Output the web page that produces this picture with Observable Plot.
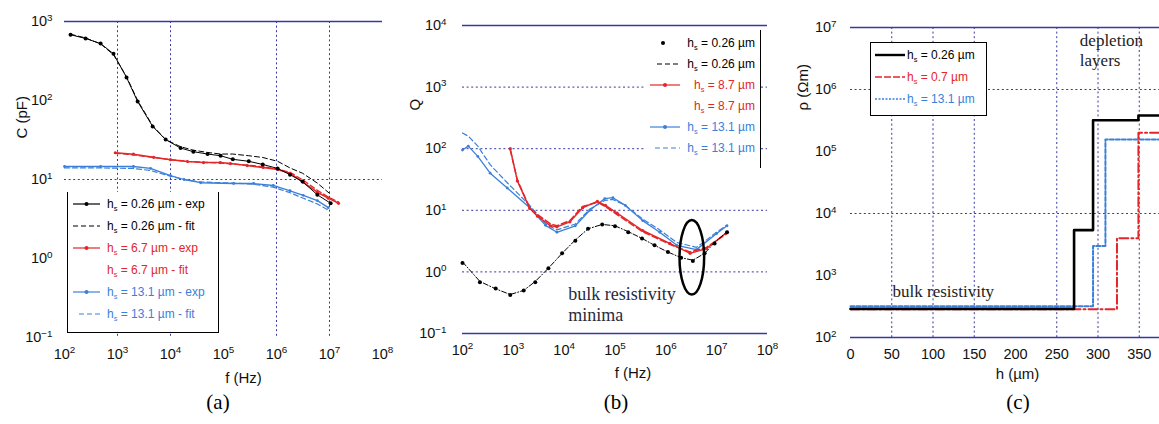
<!DOCTYPE html>
<html><head><meta charset="utf-8">
<script src="https://cdn.jsdelivr.net/npm/d3@7"></script>
<script src="https://cdn.jsdelivr.net/npm/@observablehq/plot@0.6"></script>
<style>
body{margin:0;background:#fff;}
#wrap{position:relative;width:1159px;height:424px;overflow:hidden;font-family:"Liberation Sans",Arial,sans-serif;background:#fff;}
.panel{position:absolute;top:0;}
.cap{position:absolute;top:390px;font-family:"Liberation Serif","Times New Roman",serif;font-size:21px;transform:translateX(-50%);}
</style></head><body><div id="wrap"></div>
<script>
// ---------- Panel (a): C vs f ----------
const aTicksX = [1e2,1e3,1e4,1e5,1e6,1e7,1e8];
const aTicksY = [1e-1,1e0,1e1,1e2,1e3];
const aGridX = [1e3,1e4,1e6,1e7];
const aGridYDashed = [1e1];
const aGridYSolid = [1e3];
const aFreqBlack = [130,250,480,840,1480,2400,4600,8100,15500,27000,50000,88000,150000,300000,550000,1050000,1800000,3100000,5900000,10500000];
const aCapBlackExp = [680,610,525,390,196,97,47,32,25,22.5,21,20,18,17,15.5,13.8,11.5,9.4,6.4,5.0];
const aCapBlackFit = [690,620,520,380,200,100,48,32,26,23.5,22,21,21,20,19,17,14,12,9,6.5];
const aFreqRed = [910,2000,4800,10000,21000,42000,87000,135000,280000,560000,1050000,1800000,3200000,5900000,9500000,14800000];
const aCapRedExp = [21.8,20.9,19.1,17.8,16.9,16.4,16.4,15.9,15.0,14.2,13.4,12.0,9.2,6.9,5.8,5.0];
const aCapRedFit = [21.5,20.5,19,17.8,17,16.5,16.2,15.8,15.2,14.5,13.6,12.3,9.8,7.3,6.0,5.2];
const aFreqBlue = [100,480,2000,4200,10000,18000,37000,155000,370000,870000,1800000,3200000,5900000,9500000];
const aCapBlueExp = [14.6,14.6,14.6,13.8,11.2,10,9.1,8.9,8.9,8.4,7.2,6.3,5.4,4.4];
const aCapBlueFit = [14,14,13.8,13,11,10,9.3,9,8.7,8,6.8,5.8,4.9,4.1];
const aLegendText = [" = 0.26 µm - exp"," = 0.26 µm - fit"," = 6.7 µm - exp"," = 6.7 µm - fit"," = 13.1 µm - exp"," = 13.1 µm - fit"];

// ---------- Panel (b): Q vs f ----------
const bTicksX = [1e2,1e3,1e4,1e5,1e6,1e7,1e8];
const bTicksY = [1e-1,1e0,1e1,1e2,1e3,1e4];
const bGridYDashed = [1e0,1e1,1e2,1e3];
const bGridYSolid = [1e-1,1e4];
const bFreqBlack = [100,220,450,870,1600,2700,4900,9100,16600,29500,56000,100000,182000,340000,600000,1100000,2000000,3400000,5800000,9100000,16000000];
const bQBlackExp = [1.4,0.68,0.54,0.42,0.5,0.68,1.15,2.0,3.2,5.0,5.9,5.5,4.4,3.5,2.7,2.1,1.7,1.5,2.0,2.9,4.4];
const bQBlackFit = [1.45,0.7,0.53,0.43,0.5,0.7,1.15,2.0,3.3,5.0,5.9,5.6,4.5,3.5,2.7,2.1,1.7,1.55,2.0,3.0,4.5];
const bFreqRed = [870,1200,2100,3000,5400,7200,13000,23000,45000,65000,110000,350000,1200000,3000000,6300000,16000000];
const bQRedExp = [100,30,10.7,8,5.6,5.4,6.5,11,14,12,9,4.7,2.9,2.0,2.4,4.4];
const bQRedFit = [95,31,11,8.5,6,5.6,6.8,11.5,13.5,11.5,8.5,4.5,2.8,2.1,2.5,4.2];
const bFreqBlue = [100,130,200,350,760,2100,4300,7200,16600,32000,63000,91000,160000,350000,760000,1650000,4000000,10000000,16000000];
const bQBlueExp = [95,110,75,40,23,11,5.7,4.4,5.6,10,15.5,16,12,6.8,4.4,2.7,2.3,4.2,5.6];
const bQBlueFit = [180,160,110,55,28,12,6,4.8,6,10.5,14.5,15,12,7.2,4.8,3,2.5,4.4,5.8];
const bLegendText = [" = 0.26 µm"," = 0.26 µm"," = 8.7 µm"," = 8.7 µm"," = 13.1 µm"," = 13.1 µm"];
const bNoteText = ["bulk resistivity","minima"];
const bNoteF = [12000,12000];
const bNoteQ = [0.35,0.158];
const bEllipseF = [1.9e6,5.8e6];
const bEllipseQ = [0.42,6.8];

// ---------- Panel (c): rho vs h ----------
const cTicksX = [0,50,100,150,200,250,300,350];
const cTicksY = [1e2,1e3,1e4,1e5,1e6,1e7];
const cGridX = [50,100,150,250,300,350];
const cGridYDashed = [1e4,1e6];
const cGridYSolid = [1e2,1e7];
const cHBlack = [0,271,294,349,400];
const cRhoBlack = [290,5400,3.2e5,3.8e5,3.8e5];
const cHRed = [0,323,349,400];
const cRhoRed = [285,4000,2.0e5,2.0e5];
const cHBlue = [0,294,309,400];
const cRhoBlue = [320,3000,1.56e5,1.56e5];
const cLegendText = [" = 0.26 µm"," = 0.7 µm"," = 13.1 µm"];
const cNoteText = ["depletion","layers","bulk resistivity"];
const cNoteH = [278,278,51];
const cNoteRho = [5.1e6,2.4e6,443];

// ---------- helpers ----------
const GRID = "#3838a0";
const RED = "#e2262a";
const BLUE = "#3a80da";
const sup = d => "10^" + Math.round(Math.log10(d));
const rows = (xs, ys) => xs.map((x,i) => ({x, y: ys[i]}));
const dashGrid = {stroke: GRID, strokeWidth: 1, strokeDasharray: "2,2.6"};
const solidGrid = {stroke: GRID, strokeWidth: 1.4};
const baseStyle = {fontFamily: "Liberation Sans, Arial, sans-serif", fontSize: "14.5px", overflow: "visible", background: "transparent", color: "#111"};

function supify(svg){
  d3.select(svg).selectAll("text").each(function(){
    const m = /^10\^(-?\d+)$/.exec(this.textContent);
    if(!m) return;
    this.textContent = "10";
    d3.select(this).append("tspan").attr("dy","-0.55em").attr("font-size","0.68em").text(m[1].replace("-","\u2212"));
  });
}
function place(svg, left, width){
  const div = document.createElement("div");
  div.className = "panel";
  div.style.left = left + "px";
  div.style.width = width + "px";
  div.appendChild(svg);
  document.getElementById("wrap").appendChild(div);
}
function axisTitles(xTitle, yTitle, xdx, xdy, ydx, ydy){
  return [
    Plot.text([xTitle], {frameAnchor: "bottom", text: d => d, dx: xdx, dy: xdy, fontSize: 15, fill: "#111"}),
    Plot.text([yTitle], {frameAnchor: "left", text: d => d, dx: ydx, dy: ydy, rotate: -90, fontSize: 15, fill: "#111"})
  ];
}
function addLegend(o){
  const svg = d3.select("#wrap").append("svg")
    .style("position","absolute").style("left",o.left+"px").style("top",o.top+"px")
    .attr("width",o.width).attr("height",o.height).style("overflow","visible");
  svg.append("rect").attr("width",o.width).attr("height",o.height).attr("fill","#fff");
  const W=o.width,H=o.height;
  const b = o.borders;
  if(b.includes("t")) svg.append("line").attr("x1",0).attr("x2",W).attr("y1",0.5).attr("y2",0.5).attr("stroke","#000");
  if(b.includes("b")) svg.append("line").attr("x1",0).attr("x2",W).attr("y1",H-0.5).attr("y2",H-0.5).attr("stroke","#000");
  if(b.includes("l")) svg.append("line").attr("x1",0.5).attr("x2",0.5).attr("y1",0).attr("y2",H).attr("stroke","#000");
  if(b.includes("r")) svg.append("line").attr("x1",W-0.5).attr("x2",W-0.5).attr("y1",0).attr("y2",H).attr("stroke","#000");
  o.rows.forEach((r,i) => {
    const y = o.y0 + i*o.dy;
    if(r.line) svg.append("line").attr("x1",r.x0 ?? o.sx0).attr("x2",o.sx1).attr("y1",y).attr("y2",y)
      .attr("stroke",r.color).attr("stroke-width",r.sw||1.2).attr("stroke-dasharray",r.dash||null);
    if(r.marker) svg.append("circle").attr("cx",r.mx ?? (o.sx0+o.sx1)/2).attr("cy",y).attr("r",2).attr("fill",r.color);
    const t = svg.append("text").attr("x",o.tx).attr("y",y).attr("dy","0.35em").attr("fill",r.color)
      .attr("font-size",o.fs).attr("text-anchor",o.anchor||"start").attr("font-family","Liberation Sans, Arial, sans-serif");
    t.append("tspan").text("h");
    t.append("tspan").attr("dy",3).attr("font-size",o.fs*0.62).text("s");
    t.append("tspan").attr("dy",-3).text(r.text);
  });
}

// ---------- Panel (a) ----------
const plotA = Plot.plot({
  width: 390, height: 400, marginLeft: 64, marginRight: 8, marginTop: 21, marginBottom: 63,
  style: baseStyle,
  x: {type: "log", domain: [1e2,1e8], ticks: aTicksX, tickFormat: sup, tickSize: 0, tickPadding: 11, label: null},
  y: {type: "log", domain: [1e-1,1e3], ticks: aTicksY, tickFormat: sup, tickSize: 0, tickPadding: 12, label: null},
  marks: [
    Plot.ruleX(aGridX, dashGrid),
    Plot.ruleY(aGridYDashed, dashGrid),
    Plot.ruleY(aGridYSolid, solidGrid),
    Plot.line(rows(aFreqBlue, aCapBlueFit), {x:"x", y:"y", stroke: BLUE, strokeWidth: 1.2, strokeDasharray: "5,3"}),
    Plot.line(rows(aFreqBlue, aCapBlueExp), {x:"x", y:"y", stroke: BLUE, strokeWidth: 1.3}),
    Plot.dot(rows(aFreqBlue, aCapBlueExp), {x:"x", y:"y", fill: BLUE, r: 1.4}),
    Plot.line(rows(aFreqRed, aCapRedFit), {x:"x", y:"y", stroke: RED, strokeWidth: 1.3, strokeDasharray: "5,3"}),
    Plot.line(rows(aFreqRed, aCapRedExp), {x:"x", y:"y", stroke: RED, strokeWidth: 1.5}),
    Plot.dot(rows(aFreqRed, aCapRedExp), {x:"x", y:"y", fill: RED, r: 1.6}),
    Plot.line(rows(aFreqBlack, aCapBlackFit), {x:"x", y:"y", stroke: "#000", strokeWidth: 1, strokeDasharray: "5,3"}),
    Plot.line(rows(aFreqBlack, aCapBlackExp), {x:"x", y:"y", stroke: "#000", strokeWidth: 1}),
    Plot.dot(rows(aFreqBlack, aCapBlackExp), {x:"x", y:"y", fill: "#000", r: 2}),
    ...axisTitles("f (Hz)", "C (pF)", 20, 45, -42, -41)
  ]
});
supify(plotA);
place(plotA, 0, 390);

// ---------- Panel (b) ----------
const plotB = Plot.plot({
  width: 390, height: 400, marginLeft: 72, marginRight: 13, marginTop: 25, marginBottom: 67,
  style: baseStyle,
  x: {type: "log", domain: [1e2,1e8], ticks: bTicksX, tickFormat: sup, tickSize: 0, tickPadding: 11, label: null},
  y: {type: "log", domain: [1e-1,1e4], ticks: bTicksY, tickFormat: sup, tickSize: 0, tickPadding: 16, label: null},
  marks: [
    Plot.ruleY(bGridYDashed, dashGrid),
    Plot.ruleY(bGridYSolid, solidGrid),
    Plot.line(rows(bFreqBlue, bQBlueFit), {x:"x", y:"y", stroke: BLUE, strokeWidth: 1.2, strokeDasharray: "5,3"}),
    Plot.line(rows(bFreqBlue, bQBlueExp), {x:"x", y:"y", stroke: BLUE, strokeWidth: 1.3}),
    Plot.dot(rows(bFreqBlue, bQBlueExp), {x:"x", y:"y", fill: BLUE, r: 1.4}),
    Plot.line(rows(bFreqRed, bQRedFit), {x:"x", y:"y", stroke: RED, strokeWidth: 1.5, strokeDasharray: "6,3"}),
    Plot.line(rows(bFreqRed, bQRedExp), {x:"x", y:"y", stroke: RED, strokeWidth: 1.4}),
    Plot.dot(rows(bFreqRed, bQRedExp), {x:"x", y:"y", fill: RED, r: 1.6}),
    Plot.line(rows(bFreqBlack, bQBlackFit), {x:"x", y:"y", stroke: "#000", strokeWidth: 1, strokeDasharray: "5,2,1,2"}),
    Plot.dot(rows(bFreqBlack, bQBlackExp), {x:"x", y:"y", fill: "#000", r: 2}),
    Plot.text(bNoteText, {x: (d,i) => bNoteF[i], y: (d,i) => bNoteQ[i], text: d => d, textAnchor: "start", lineAnchor: "bottom", fontFamily: "Liberation Serif, Times New Roman, serif", fontSize: 18, fill: "#2a2a3e"}),
    ...axisTitles("f (Hz)", "Q", 18, 44, -47, -69)
  ]
});
supify(plotB);
{
  const sx = plotB.scale("x"), sy = plotB.scale("y");
  const x0 = sx.apply(bEllipseF[0]), x1 = sx.apply(bEllipseF[1]);
  const y0 = sy.apply(bEllipseQ[0]), y1 = sy.apply(bEllipseQ[1]);
  d3.select(plotB).append("ellipse")
    .attr("cx",(x0+x1)/2).attr("cy",(y0+y1)/2).attr("rx",Math.abs(x1-x0)/2).attr("ry",Math.abs(y1-y0)/2)
    .attr("fill","none").attr("stroke","#000").attr("stroke-width",2.5);
}
place(plotB, 390, 390);

// ---------- Panel (c) ----------
const plotC = Plot.plot({
  width: 420, height: 400, marginLeft: 70, marginRight: 20, marginTop: 27, marginBottom: 63,
  style: baseStyle,
  x: {type: "linear", domain: [0,400], ticks: cTicksX, tickSize: 0, tickPadding: 11, label: null},
  y: {type: "log", domain: [1e2,1e7], ticks: cTicksY, tickFormat: sup, tickSize: 0, tickPadding: 14, label: null},
  marks: [
    Plot.ruleX(cGridX, dashGrid),
    Plot.ruleY(cGridYDashed, dashGrid),
    Plot.ruleY(cGridYSolid, solidGrid),
    Plot.text(cNoteText, {x: (d,i) => cNoteH[i], y: (d,i) => cNoteRho[i], text: d => d, textAnchor: "start", lineAnchor: "bottom", fontFamily: "Liberation Serif, Times New Roman, serif", fontSize: 17, fill: "#222"}),
    Plot.line(rows(cHBlue, cRhoBlue), {x:"x", y:"y", curve: "step-after", stroke: BLUE, strokeWidth: 2, strokeDasharray: "4,2"}),
    Plot.line(rows(cHRed, cRhoRed), {x:"x", y:"y", curve: "step-after", stroke: RED, strokeWidth: 2, strokeDasharray: "9,3,2,3"}),
    Plot.line(rows(cHBlack, cRhoBlack), {x:"x", y:"y", curve: "step-after", stroke: "#000", strokeWidth: 2.6}),
    ...axisTitles("h (µm)", "ρ (Ωm)", 2, 41, -47, -72)
  ]
});
supify(plotC);
place(plotC, 780, 420);

// ---------- legends ----------
addLegend({left: 67, top: 192, width: 152, height: 141, borders: "lrb", y0: 12, dy: 22, sx0: 6, sx1: 33, tx: 40, fs: 12,
  rows: [
    {text: aLegendText[0], color: "#000", line: true, marker: true},
    {text: aLegendText[1], color: "#000", line: true, dash: "5,3"},
    {text: aLegendText[2], color: RED, line: true, marker: true},
    {text: aLegendText[3], color: RED},
    {text: aLegendText[4], color: BLUE, line: true, marker: true},
    {text: aLegendText[5], color: BLUE, line: true, dash: "5,3", x0: 12}
  ]});
addLegend({left: 646, top: 30, width: 115, height: 138, borders: "r", y0: 13, dy: 21, sx0: 4, sx1: 34, tx: 109, fs: 12, anchor: "end",
  rows: [
    {text: bLegendText[0], color: "#000", marker: true, mx: 17},
    {text: bLegendText[1], color: "#000", line: true, dash: "5,3", x0: 11},
    {text: bLegendText[2], color: RED, line: true, marker: true},
    {text: bLegendText[3], color: RED},
    {text: bLegendText[4], color: BLUE, line: true, marker: true},
    {text: bLegendText[5], color: BLUE, line: true, dash: "5,3", x0: 9}
  ]});
addLegend({left: 870, top: 42, width: 117, height: 74, borders: "tlrb", y0: 13, dy: 22, sx0: 5, sx1: 35, tx: 37, fs: 12,
  rows: [
    {text: cLegendText[0], color: "#000", line: true, sw: 2.4},
    {text: cLegendText[1], color: RED, line: true, dash: "7,2", sw: 1.5},
    {text: cLegendText[2], color: BLUE, line: true, dash: "2,1.5", sw: 1.5}
  ]});

// ---------- captions ----------
[["(a)",218],["(b)",616],["(c)",1018]].forEach(([t,x]) => {
  const d = document.createElement("div");
  d.className = "cap"; d.style.left = x + "px"; d.textContent = t;
  document.getElementById("wrap").appendChild(d);
});
</script>
</body></html>
